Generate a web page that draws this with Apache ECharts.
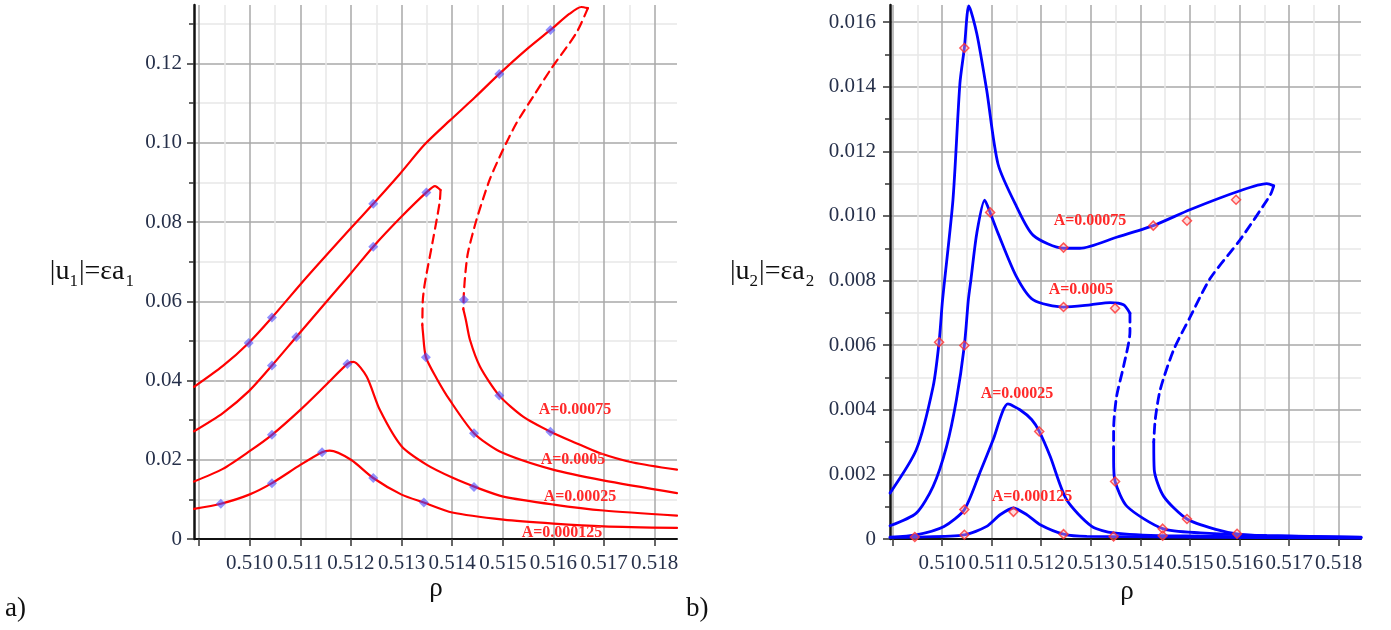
<!DOCTYPE html>
<html>
<head>
<meta charset="utf-8">
<title>Frequency response curves |u1|, |u2| versus rho</title>
<script src="https://cdn.jsdelivr.net/npm/echarts@6/dist/echarts.min.js"></script>
<style>
  html, body { margin: 0; padding: 0; background: #ffffff; }
  #chart { width: 1391px; height: 630px; }
</style>
</head>
<body>
<div id="chart"></div>
<script>
// ---- axis ticks ----
const rhoTicks = [0.509, 0.510, 0.511, 0.512, 0.513, 0.514, 0.515, 0.516, 0.517, 0.518];
const rhoLabels = [0.510, 0.511, 0.512, 0.513, 0.514, 0.515, 0.516, 0.517, 0.518];
const u1Ticks = [0, 0.02, 0.04, 0.06, 0.08, 0.10, 0.12];
const u2Ticks = [0, 0.002, 0.004, 0.006, 0.008, 0.010, 0.012, 0.014, 0.016];
const amplitudeNames = ['A=0.00075', 'A=0.0005', 'A=0.00025', 'A=0.000125'];

// ---- |u1| = eps*a1 (left panel) : [rho, value] ----
const u1_A075_upper = [[0.5089,0.0384],[0.50947,0.0437],[0.50998,0.0495],[0.51044,0.0559],[0.51112,0.0660],[0.51200,0.0785],[0.51244,0.0846],[0.51297,0.0922],[0.51345,0.0995],[0.51395,0.1056],[0.51445,0.1115],[0.51493,0.1174],[0.51547,0.1236],[0.51594,0.1285],[0.51632,0.1326],[0.51655,0.1343],[0.51668,0.1340]];
const u1_A075_unstable = [[0.51668,0.1340],[0.51645,0.1277],[0.51596,0.1188],[0.51560,0.1117],[0.51527,0.1050],[0.51500,0.0982],[0.51474,0.0907],[0.51448,0.0806],[0.51431,0.0722],[0.51426,0.0671],[0.51423,0.0620],[0.51422,0.0580]];
const u1_A075_lower = [[0.51422,0.0580],[0.51427,0.0553],[0.51435,0.0503],[0.51455,0.0435],[0.51493,0.0362],[0.51540,0.0309],[0.51594,0.0271],[0.51645,0.0242],[0.51691,0.0217],[0.51757,0.0193],[0.51844,0.0175]];

const u1_A05_upper = [[0.5089,0.0272],[0.50947,0.0318],[0.50999,0.0374],[0.51044,0.0438],[0.51092,0.0510],[0.51200,0.0671],[0.51244,0.0738],[0.51300,0.0814],[0.51349,0.0875],[0.51366,0.0891],[0.51377,0.0881]];
const u1_A05_unstable = [[0.51377,0.0881],[0.51375,0.0848],[0.51362,0.0755],[0.51346,0.0646],[0.51342,0.0604],[0.51341,0.0540]];
const u1_A05_lower = [[0.51341,0.0540],[0.51342,0.0524],[0.51348,0.0459],[0.51369,0.0406],[0.51395,0.0351],[0.51443,0.0267],[0.51494,0.0221],[0.51599,0.0175],[0.51698,0.0148],[0.51844,0.0116]];

const u1_A025 = [[0.5089,0.0145],[0.50947,0.0177],[0.50999,0.0221],[0.51044,0.0263],[0.51100,0.0326],[0.51150,0.0388],[0.51193,0.0442],[0.51205,0.0447],[0.51231,0.0410],[0.51257,0.0326],[0.51300,0.0234],[0.51350,0.0187],[0.51400,0.0155],[0.51450,0.0129],[0.51501,0.0107],[0.51600,0.0087],[0.51699,0.0072],[0.51844,0.0059]];
const u1_A0125 = [[0.5089,0.0076],[0.50943,0.0089],[0.50999,0.0112],[0.51044,0.0141],[0.51100,0.0187],[0.51143,0.0219],[0.51158,0.0223],[0.51200,0.0200],[0.51244,0.0154],[0.51300,0.0112],[0.51344,0.0092],[0.51400,0.0067],[0.51501,0.0049],[0.51600,0.0039],[0.51699,0.0032],[0.51844,0.0028]];

const u1Points = [[0.50943,0.0089],[0.51044,0.0141],[0.51143,0.0219],[0.51244,0.0154],[0.51344,0.0092],
  [0.51044,0.0263],[0.51193,0.0442],[0.51443,0.0131],
  [0.51044,0.0438],[0.51092,0.0510],[0.51244,0.0738],[0.51349,0.0875],[0.51348,0.0459],[0.51443,0.0267],
  [0.50998,0.0495],[0.51044,0.0559],[0.51244,0.0846],[0.51493,0.1174],[0.51594,0.1285],[0.51423,0.0604],[0.51493,0.0362],[0.51594,0.0271]];

// ---- |u2| = eps*a2 (right panel) ----
const u2_A075_upper = [[0.50895,0.00142],[0.50948,0.00276],[0.50982,0.00472],[0.50994,0.00609],[0.51001,0.0074],[0.51022,0.0105],[0.51036,0.0141],[0.51045,0.0152],[0.51054,0.0165],[0.51070,0.01565],[0.51090,0.0139],[0.51113,0.0116],[0.51150,0.0103],[0.51184,0.0094],[0.51245,0.0090],[0.51278,0.0090],[0.51352,0.00934],[0.51426,0.0097],[0.51501,0.0102],[0.51601,0.01078],[0.51655,0.0110],[0.51669,0.01093]];
const u2_A075_unstable = [[0.51669,0.01093],[0.51662,0.01065],[0.51601,0.00926],[0.51541,0.00807],[0.51501,0.00689],[0.51467,0.00585],[0.51440,0.00462],[0.51430,0.0037],[0.51427,0.0030]];
const u2_A075_lower = [[0.51427,0.0030],[0.51428,0.00214],[0.51447,0.00132],[0.51494,0.00062],[0.51554,0.00029],[0.51595,0.00016],[0.51655,0.0001],[0.51845,0.00006]];

const u2_A05_upper = [[0.50895,0.00041],[0.50948,0.0008],[0.50982,0.00163],[0.51009,0.00286],[0.51029,0.00431],[0.51045,0.00599],[0.51053,0.0074],[0.51058,0.0080],[0.51070,0.00946],[0.51086,0.01049],[0.51097,0.0101],[0.51113,0.00946],[0.51150,0.00812],[0.51184,0.0074],[0.51245,0.00718],[0.51299,0.00725],[0.51339,0.00732],[0.51366,0.00725],[0.51379,0.00699]];
const u2_A05_unstable = [[0.51379,0.00699],[0.51379,0.00642],[0.51366,0.00534],[0.51352,0.00441],[0.51346,0.00338],[0.51346,0.0028]];
const u2_A05_lower = [[0.51346,0.0028],[0.51346,0.00245],[0.51349,0.00178],[0.51373,0.00101],[0.51445,0.00032],[0.51521,0.00019],[0.51655,0.0001],[0.51845,0.00005]];

const u2_A025 = [[0.50895,0.00006],[0.50948,0.00013],[0.51004,0.00039],[0.51045,0.00091],[0.51076,0.00204],[0.51103,0.00307],[0.51133,0.00418],[0.51157,0.0040],[0.51181,0.00369],[0.51196,0.00333],[0.51218,0.00256],[0.51251,0.00122],[0.51302,0.00039],[0.51346,0.00019],[0.51454,0.0001],[0.51845,0.00004]];
const u2_A0125 = [[0.50895,0.00005],[0.50945,0.00006],[0.51045,0.00013],[0.51090,0.00039],[0.51117,0.00075],[0.51144,0.00096],[0.51171,0.00075],[0.51198,0.00044],[0.51245,0.00015],[0.51292,0.00008],[0.51845,0.00003]];

const u2Points = [[0.50945,0.00006],[0.50994,0.00609],[0.51045,0.0152],[0.51045,0.00599],[0.51045,0.00091],[0.51045,0.00013],
  [0.51097,0.01011],[0.51144,0.00084],[0.51196,0.00333],[0.51245,0.00902],[0.51245,0.00718],[0.51245,0.00015],
  [0.51349,0.00714],[0.51349,0.00178],[0.51346,0.00008],[0.51426,0.0097],[0.51445,0.00032],[0.51445,0.0001],
  [0.51494,0.00985],[0.51494,0.00062],[0.51593,0.0105],[0.51595,0.00016]];

// ---- styling ----
const SERIF = "'Liberation Serif', 'DejaVu Serif', serif";
const TICK_COLOR = '#26304a';
const MAJOR_GRID = '#a9a9a9';
const MINOR_GRID = '#e7e7e7';

function midpoints(ticks, max) {
  const out = [];
  for (let i = 0; i < ticks.length; i++) {
    const step = i + 1 < ticks.length ? ticks[i + 1] - ticks[i] : ticks[i] - ticks[i - 1];
    const m = ticks[i] + step / 2;
    if (m < max) out.push(+m.toFixed(6));
  }
  return out;
}

function xAxisPair(grid, min, max, fmt) {
  return [
    {
      type: 'value', gridIndex: grid, min, max, position: 'bottom',
      axisLine: { show: true, onZero: false, lineStyle: { color: '#111', width: 2 } },
      axisTick: { show: true, length: 7, customValues: rhoTicks, lineStyle: { color: '#333', width: 1.5 } },
      axisLabel: { show: true, customValues: rhoLabels, formatter: fmt, margin: 14,
                   fontFamily: SERIF, fontSize: 21, color: TICK_COLOR },
      splitLine: { show: true, lineStyle: { color: MAJOR_GRID, width: 1.5 } }
    },
    {
      type: 'value', gridIndex: grid, min, max, position: 'bottom',
      axisLine: { show: false }, axisLabel: { show: false },
      axisTick: { show: false, customValues: midpoints(rhoTicks, max) },
      splitLine: { show: true, lineStyle: { color: MINOR_GRID, width: 1.5 } }
    }
  ];
}

function yAxisPair(grid, max, ticks, fmt, margin) {
  return [
    {
      type: 'value', gridIndex: grid, min: 0, max, position: 'left',
      axisLine: { show: true, onZero: false, lineStyle: { color: '#111', width: 2.5 } },
      axisTick: { show: true, length: 7, customValues: ticks, lineStyle: { color: '#333', width: 1.5 } },
      axisLabel: { show: true, customValues: ticks, formatter: fmt, margin,
                   fontFamily: SERIF, fontSize: 21, color: TICK_COLOR },
      splitLine: { show: true, lineStyle: { color: MAJOR_GRID, width: 1.5 } }
    },
    {
      type: 'value', gridIndex: grid, min: 0, max, position: 'left',
      axisLine: { show: false }, axisLabel: { show: false },
      axisTick: { show: true, length: 5, customValues: midpoints(ticks, max), lineStyle: { color: '#333', width: 1.5 } },
      splitLine: { show: true, lineStyle: { color: MINOR_GRID, width: 1.5 } }
    }
  ];
}

function curve(data, xi, yi, color, width, dashed) {
  return {
    type: 'line', xAxisIndex: xi, yAxisIndex: yi, data,
    showSymbol: false, smooth: 0.25, silent: true, z: 3,
    lineStyle: { color, width, type: dashed ? [9, 6] : 'solid', cap: 'round' }
  };
}

// text width helper for laying out the axis titles piece by piece
const measureCtx = document.createElement('canvas').getContext('2d');
function textWidth(text, size) {
  measureCtx.font = size + "px 'Liberation Serif'";
  return measureCtx.measureText(text).width;
}

// "|u_k|=εa_k" drawn piecewise so the indices sit below the baseline
function axisTitle(edge, sub, anchorRight) {
  const M = 28, S = 17;
  const w1 = textWidth('|u', M), ws = textWidth(sub, S), w2 = textWidth('|=εa', M);
  const total = w1 + ws + 1 + w2 + ws + 1;
  const x = anchorRight ? edge - total : edge;
  const yMain = 272, ySub = 282;
  const main = { fontFamily: SERIF, fontSize: M, fill: '#111', verticalAlign: 'middle' };
  const small = { fontFamily: SERIF, fontSize: S, fill: '#111', verticalAlign: 'middle' };
  return [
    { type: 'text', x: x, y: yMain, style: Object.assign({ text: '|u' }, main) },
    { type: 'text', x: x + w1, y: ySub, style: Object.assign({ text: sub }, small) },
    { type: 'text', x: x + w1 + ws + 1, y: yMain, style: Object.assign({ text: '|=εa' }, main) },
    { type: 'text', x: x + w1 + ws + 1 + w2 + 1, y: ySub, style: Object.assign({ text: sub }, small) }
  ];
}

function amplitudeLabel(text, cx, cy) {
  return { type: 'text', x: cx, y: cy, z: 10,
    style: { text, fontFamily: SERIF, fontWeight: 'bold', fontSize: 16, fill: '#ff2a2a',
             align: 'center', verticalAlign: 'middle' } };
}

const fmtRho = v => v.toFixed(3);
const fmtU1 = v => (v === 0 ? '0' : v.toFixed(2));
const fmtU2 = v => (v === 0 ? '0' : v.toFixed(3));

const RED = '#ff0000';
const BLUE = '#0000ff';

const option = {
  animation: false,
  backgroundColor: '#ffffff',
  grid: [
    { left: 194, top: 5, width: 483, height: 534 },
    { left: 890, top: 5, width: 471, height: 534 }
  ],
  xAxis: [].concat(xAxisPair(0, 0.5089, 0.51844, fmtRho), xAxisPair(1, 0.50895, 0.51845, fmtRho)),
  yAxis: [].concat(yAxisPair(0, 0.1348, u1Ticks, fmtU1, 12), yAxisPair(1, 0.01653, u2Ticks, fmtU2, 14)),
  series: [
    curve(u1_A075_upper, 0, 0, RED, 2.2, false),
    curve(u1_A075_unstable, 0, 0, RED, 2.2, true),
    curve(u1_A075_lower, 0, 0, RED, 2.2, false),
    curve(u1_A05_upper, 0, 0, RED, 2.2, false),
    curve(u1_A05_unstable, 0, 0, RED, 2.2, true),
    curve(u1_A05_lower, 0, 0, RED, 2.2, false),
    curve(u1_A025, 0, 0, RED, 2.2, false),
    curve(u1_A0125, 0, 0, RED, 2.2, false),
    {
      type: 'scatter', xAxisIndex: 0, yAxisIndex: 0, data: u1Points, z: 4, silent: true,
      symbol: 'diamond', symbolSize: 10,
      itemStyle: { color: 'rgba(70,70,255,0.75)' }
    },
    curve(u2_A075_upper, 2, 2, BLUE, 2.8, false),
    curve(u2_A075_unstable, 2, 2, BLUE, 2.8, true),
    curve(u2_A075_lower, 2, 2, BLUE, 2.8, false),
    curve(u2_A05_upper, 2, 2, BLUE, 2.8, false),
    curve(u2_A05_unstable, 2, 2, BLUE, 2.8, true),
    curve(u2_A05_lower, 2, 2, BLUE, 2.8, false),
    curve(u2_A025, 2, 2, BLUE, 2.8, false),
    curve(u2_A0125, 2, 2, BLUE, 2.8, false),
    {
      type: 'scatter', xAxisIndex: 2, yAxisIndex: 2, data: u2Points, z: 4, silent: true,
      symbol: 'diamond', symbolSize: 9,
      itemStyle: { color: 'rgba(255,170,170,0.5)', borderColor: '#ff3030', borderWidth: 1.5 }
    }
  ],
  graphic: [].concat(
    axisTitle(134, '1', true),
    axisTitle(730, '2', false),
    [
      { type: 'text', x: 436, y: 589, style: { text: 'ρ', fontFamily: SERIF, fontSize: 27, fill: '#111', align: 'center', verticalAlign: 'middle' } },
      { type: 'text', x: 1127, y: 592, style: { text: 'ρ', fontFamily: SERIF, fontSize: 27, fill: '#111', align: 'center', verticalAlign: 'middle' } },
      { type: 'text', x: 5, y: 609, style: { text: 'a)', fontFamily: SERIF, fontSize: 27, fill: '#111', verticalAlign: 'middle' } },
      { type: 'text', x: 686, y: 609, style: { text: 'b)', fontFamily: SERIF, fontSize: 27, fill: '#111', verticalAlign: 'middle' } },
      amplitudeLabel(amplitudeNames[0], 575, 410),
      amplitudeLabel(amplitudeNames[1], 573, 460),
      amplitudeLabel(amplitudeNames[2], 580, 497),
      amplitudeLabel(amplitudeNames[3], 562, 533),
      amplitudeLabel(amplitudeNames[0], 1090, 221),
      amplitudeLabel(amplitudeNames[1], 1081, 290),
      amplitudeLabel(amplitudeNames[2], 1017, 394),
      amplitudeLabel(amplitudeNames[3], 1032, 497)
    ]
  )
};

const chart = echarts.init(document.getElementById('chart'), null, { renderer: 'canvas' });
chart.setOption(option);
</script>
</body>
</html>
